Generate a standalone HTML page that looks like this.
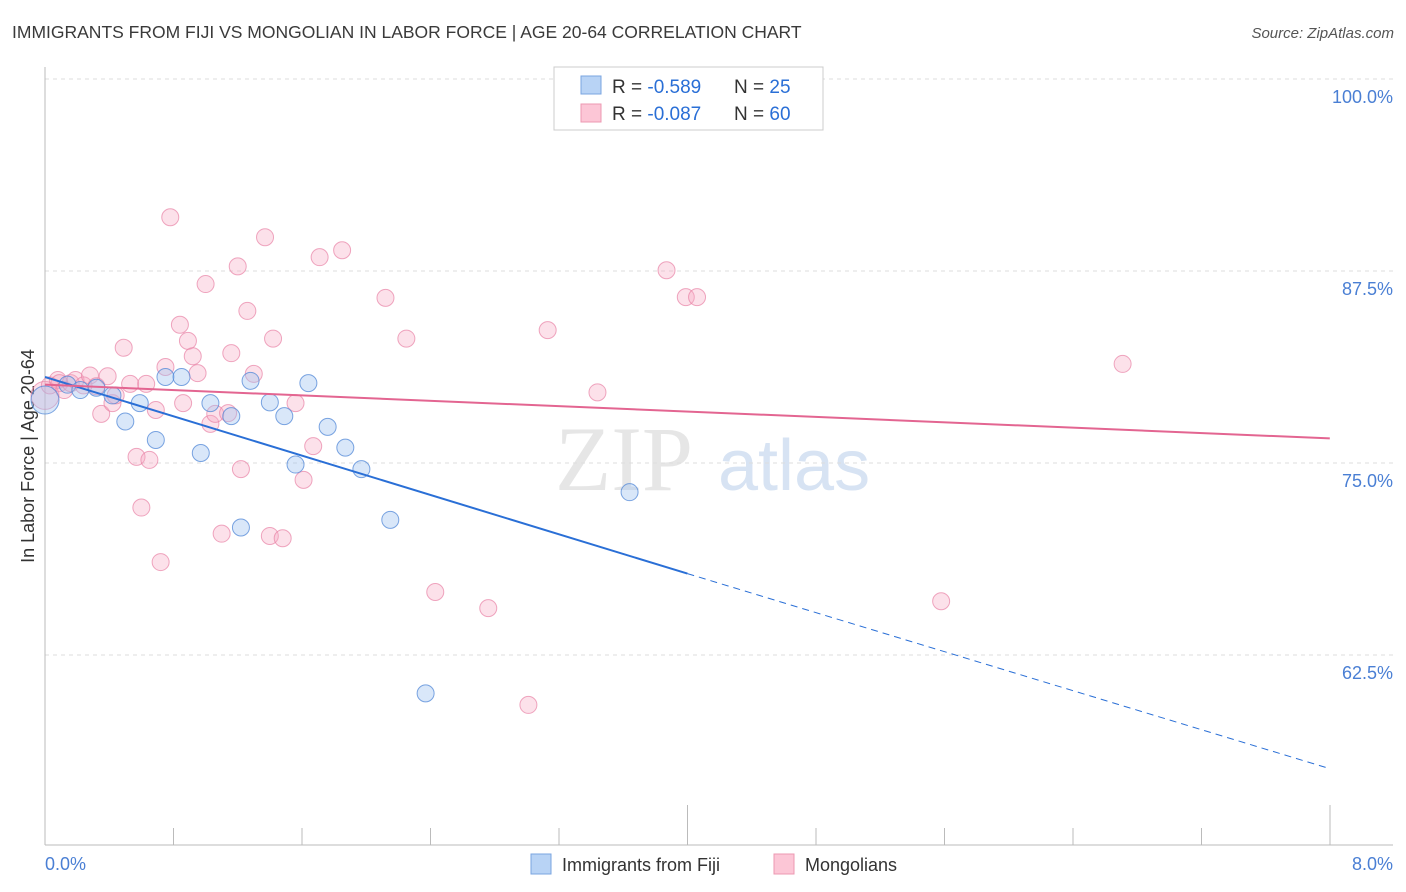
<!DOCTYPE html>
<html><head><meta charset="utf-8"><style>
body{margin:0;background:#fff;font-family:"Liberation Sans",sans-serif}
#wrap{position:relative;width:1406px;height:892px;overflow:hidden}
.t{position:absolute;white-space:nowrap}
</style></head><body>
<div id="wrap">
<div class="t" style="left:12px;top:22px;font-size:17.5px;color:#3a3a3a">IMMIGRANTS FROM FIJI VS MONGOLIAN IN LABOR FORCE | AGE 20-64 CORRELATION CHART</div>
<div class="t" style="right:12px;top:25px;font-size:15px;color:#555;font-style:italic">Source: ZipAtlas.com</div>
<svg id="svg" width="1406" height="892" style="position:absolute;left:0;top:0"></svg>
</div>
<script>
const xTicks=[0,8];
const yTicks=[100,87.5,75,62.5];
const fijiX=[0.00,0.14,0.22,0.32,0.42,0.50,0.59,0.69,0.75,0.85,0.97,1.03,1.16,1.22,1.28,1.40,1.49,1.56,1.64,1.76,1.87,1.97,2.15,2.37,3.64];
const fijiY=[79.1,80.1,79.75,79.9,79.4,77.7,78.9,76.5,80.6,80.6,75.65,78.9,78.05,70.8,80.35,78.95,78.05,74.9,80.2,77.35,76.0,74.6,71.3,60.0,73.1];
const mongX=[0,0.03,0.08,0.09,0.12,0.16,0.19,0.24,0.28,0.32,0.35,0.39,0.42,0.44,0.49,0.53,0.57,0.60,0.63,0.65,0.69,0.72,0.75,0.78,0.84,0.86,0.89,0.92,0.95,1.00,1.03,1.06,1.10,1.14,1.16,1.20,1.22,1.26,1.30,1.37,1.40,1.42,1.48,1.56,1.61,1.67,1.71,1.85,2.12,2.25,2.43,2.76,3.01,3.13,3.44,3.87,3.99,4.06,5.58,6.71];
const mongY=[79.4,80.05,80.4,80.2,79.75,80.2,80.4,80.05,80.7,80.0,78.2,80.65,78.9,79.4,82.5,80.15,75.4,72.1,80.15,75.2,78.45,68.55,81.25,91.0,84.0,78.9,82.95,81.95,80.85,86.65,77.55,78.2,70.4,78.25,82.15,87.8,74.6,84.9,80.8,89.7,70.25,83.1,70.1,78.9,73.9,76.1,88.4,88.85,85.75,83.1,66.6,65.55,59.25,83.65,79.6,87.55,85.8,85.8,66.0,81.45];
const fijiTrend=[80.6,67.8,55.1]; // at x=0,4,8
const mongTrend=[80.1,76.6]; // at x=0,8
const X=v=>45+v*160.6, Y=v=>79+(100-v)*15.36;
const svg=document.getElementById('svg'),NS='http://www.w3.org/2000/svg';
function el(tag,a,name){const e=document.createElementNS(NS,tag);for(const k in a)e.setAttribute(k,a[k]);


svg.appendChild(e);return e;}
// watermark
let w=el('text',{x:555,y:490,'font-size':92,fill:'#e6e6e6','font-family':'Liberation Serif'},'watermark-zip');w.textContent='ZIP';
w=el('text',{x:718,y:490,'font-size':72,fill:'#d7e3f3','font-family':'Liberation Sans'},'watermark-atlas');w.textContent='atlas';
yTicks.forEach(v=>{el('line',{x1:45,x2:1393,y1:Y(v),y2:Y(v),stroke:'#ddd','stroke-dasharray':'4,4'},'gridline');
const t=el('text',{x:1393,y:Y(v)+24,'text-anchor':'end','font-size':18,fill:'#4a7fd4'},'y-tick-label');t.textContent=v.toFixed(1)+'%';});
el('line',{x1:45,x2:45,y1:67,y2:845,stroke:'#bbb'},'y-axis');
el('line',{x1:45,x2:1393,y1:845,y2:845,stroke:'#bbb'},'x-axis');
for(let i=1;i<=10;i++){const x=45+i*128.5;el('line',{x1:x,x2:x,y1:(i%5==0?805:828),y2:845,stroke:'#bbb'},'x-tick');}
xTicks.forEach((v,i)=>{const t=el('text',{x:i?1393:45,y:870,'text-anchor':i?'end':'start','font-size':18,fill:'#4a7fd4'},'x-tick-label');t.textContent=v.toFixed(1)+'%';});
let t=el('text',{x:34,y:456,'font-size':18,fill:'#333','text-anchor':'middle',transform:'rotate(-90 34 456)'},'y-axis-title');t.textContent='In Labor Force | Age 20-64';
mongX.forEach((v,i)=>el('circle',{cx:X(v),cy:Y(mongY[i]),r:i==0?14:8.5,fill:'rgba(246,170,195,0.35)',stroke:'rgba(232,130,165,0.7)','stroke-width':1},'mongolian-point'));
fijiX.forEach((v,i)=>el('circle',{cx:X(v),cy:Y(fijiY[i]),r:i==0?14:8.5,fill:'rgba(160,195,240,0.4)',stroke:'rgba(80,135,215,0.75)','stroke-width':1},'fiji-point'));
el('line',{x1:X(0),y1:Y(fijiTrend[0]),x2:X(4),y2:Y(fijiTrend[1]),stroke:'#2a6fd6','stroke-width':2},'fiji-trend-line');
el('line',{x1:X(4),y1:Y(fijiTrend[1]),x2:X(8),y2:Y(fijiTrend[2]),stroke:'#2a6fd6','stroke-width':1,'stroke-dasharray':'7,5'},'fiji-trend-dashed');
el('line',{x1:X(0),y1:Y(mongTrend[0]),x2:X(8),y2:Y(mongTrend[1]),stroke:'#e36591','stroke-width':2},'mongolian-trend-line');
// legend box
el('rect',{x:554,y:67,width:269,height:63,fill:'#fff',stroke:'#ccc'},'legend-box');
el('rect',{x:581,y:76,width:20,height:18,fill:'#b8d3f5',stroke:'#7aa5e0'},'legend-swatch-fiji');
el('rect',{x:581,y:104,width:20,height:18,fill:'#fcc6d6',stroke:'#ec98b2'},'legend-swatch-mongolian');
[['R = ','-0.589','N = ','25',93],['R = ','-0.087','N = ','60',120]].forEach(r=>{
 const a=el('text',{x:612,y:r[4],'font-size':19,fill:'#333'},'legend-stat');a.innerHTML=r[0]+'<tspan fill="#2a6fd6">'+r[1]+'</tspan>';
 const b=el('text',{x:734,y:r[4],'font-size':19,fill:'#333'},'legend-stat');b.innerHTML=r[2]+'<tspan fill="#2a6fd6">'+r[3]+'</tspan>';});
el('rect',{x:531,y:854,width:20,height:20,fill:'#b8d3f5',stroke:'#7aa5e0'},'bottom-legend-swatch-fiji');
t=el('text',{x:562,y:871,'font-size':18,fill:'#333'},'bottom-legend-fiji');t.textContent='Immigrants from Fiji';
el('rect',{x:774,y:854,width:20,height:20,fill:'#fcc6d6',stroke:'#ec98b2'},'bottom-legend-swatch-mongolian');
t=el('text',{x:805,y:871,'font-size':18,fill:'#333'},'bottom-legend-mongolian');t.textContent='Mongolians';
</script>
</body></html>
